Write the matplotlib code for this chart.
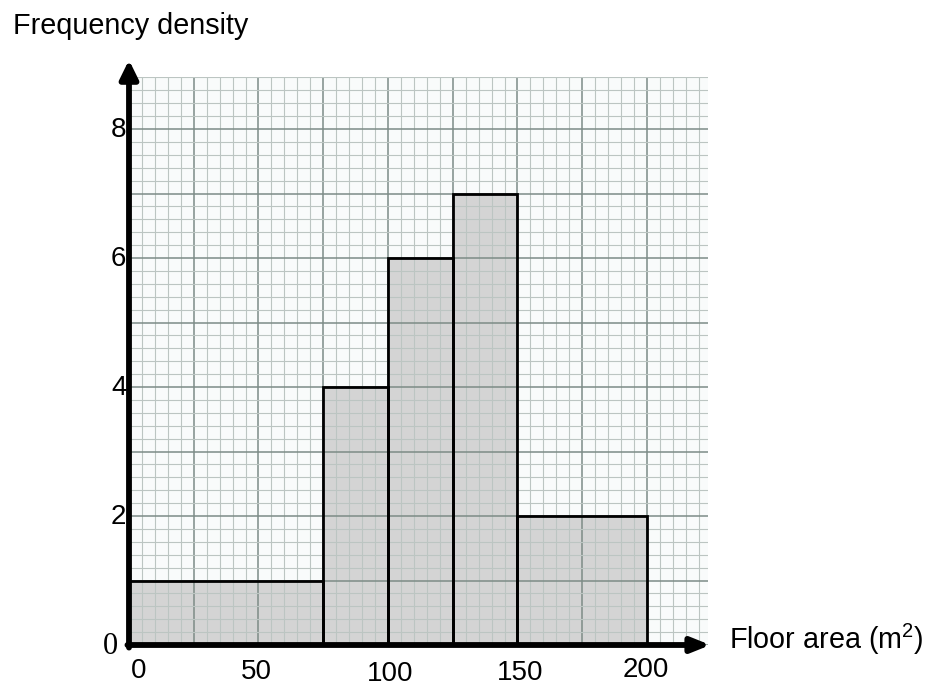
import matplotlib
matplotlib.use("Agg")
import matplotlib.pyplot as plt
import numpy as np

# Data
bin_left = [0, 75, 100, 125, 150]
bin_width = [75, 25, 25, 25, 50]
freq_density = [1, 4, 6, 7, 2]
x_tick_labels = ["0", "50", "100", "150", "200"]
x_tick_values = [0, 50, 100, 150, 200]
y_tick_labels = ["2", "4", "6", "8"]
y_tick_values = [2, 4, 6, 8]

plt.rcParams['font.family'] = ['Liberation Sans', 'DejaVu Sans']
plt.rcParams['mathtext.fontset'] = 'custom'
plt.rcParams['mathtext.rm'] = 'Liberation Sans'

W, H = 929, 689
fig = plt.figure(figsize=(W/100, H/100), dpi=100)
x0px, x1px, ytop, ybot = 129, 708, 77, 645
ax = fig.add_axes([x0px/W, (H-ybot)/H, (x1px-x0px)/W, (ybot-ytop)/H])
xmax = (x1px - x0px) / 2.59
ymax = (ybot - ytop) / 64.5
ax.set_xlim(0, xmax)
ax.set_ylim(0, ymax)
ax.set_facecolor('#f9fbfb')
for s in ax.spines.values():
    s.set_visible(False)

# grid (graph paper)
ax.set_xticks(np.arange(0, xmax, 25))
ax.set_xticks(np.arange(0, xmax, 5), minor=True)
ax.set_yticks(np.arange(0, ymax, 1))
ax.set_yticks(np.arange(0, ymax, 0.2), minor=True)
ax.tick_params(which='both', length=0, labelbottom=False, labelleft=False)

# bar fills
ax.bar(bin_left, freq_density, width=bin_width, align='edge',
       color='#d4d4d4', edgecolor='none', zorder=0.5)
ax.set_axisbelow(False)
ax.grid(which='minor', color='#bcc5c2', lw=0.8, zorder=1)
ax.grid(which='major', color='#7d8c87', lw=1.1, zorder=1.1)
# bar edges
ax.bar(bin_left, freq_density, width=bin_width, align='edge',
       facecolor='none', edgecolor='black', lw=2, zorder=3)

# axes arrows
ax.annotate('', xy=(0, 9.07), xytext=(0, -0.04), annotation_clip=False,
            arrowprops=dict(arrowstyle='-|>,head_length=0.55,head_width=0.27',
                            lw=4.2, color='black', shrinkA=0, shrinkB=0,
                            mutation_scale=20), zorder=5)
ax.annotate('', xy=(224.5, 0), xytext=(-0.6, 0), annotation_clip=False,
            arrowprops=dict(arrowstyle='-|>,head_length=0.55,head_width=0.22',
                            lw=4.2, color='black', shrinkA=0, shrinkB=0,
                            mutation_scale=20), zorder=5)

# x tick labels (hand placed, slightly offset as in reference)
x_dx = [3.7, -1.0, 0.8, 1.0, -0.4]
x_dy = [-0.40, -0.42, -0.45, -0.44, -0.39]
for v, lab, dx, dy in zip(x_tick_values, x_tick_labels, x_dx, x_dy):
    ax.text(v + dx, dy, lab, ha='center', va='center', fontsize=20,
            clip_on=False)
for v, lab in zip(y_tick_values, y_tick_labels):
    ax.text(-1.0, v - 0.01, lab, ha='right', va='center', fontsize=20,
            clip_on=False)
ax.text(-4.2, -0.03, "0", ha='right', va='center', fontsize=22,
        family='Liberation Serif', clip_on=False)

fig.text(13/W, 1 - 34/H, "Frequency density", ha='left', va='baseline',
         fontsize=20.7)
fig.text(729/W, 1 - 649/H, "Floor area (m$^2$)", ha='left', va='baseline',
         fontsize=20.7)

fig.savefig("out.png", dpi=100)
